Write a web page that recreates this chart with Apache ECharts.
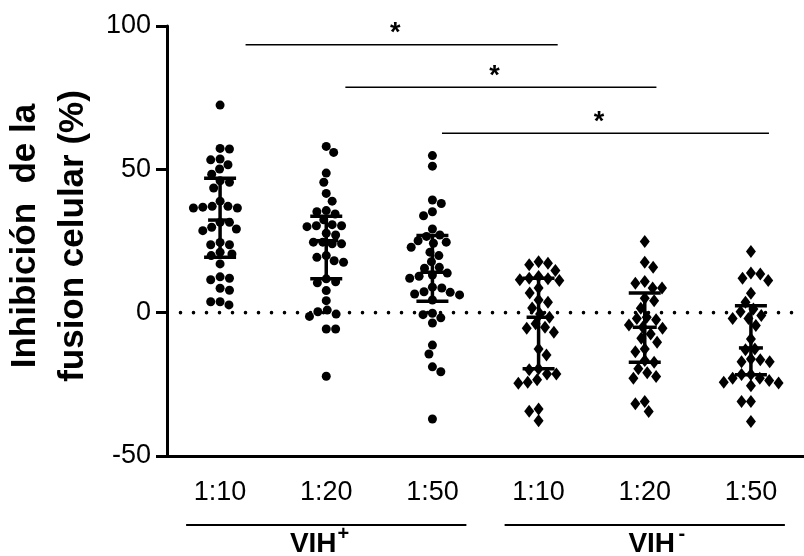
<!DOCTYPE html>
<html>
<head>
<meta charset="utf-8">
<script src="https://cdn.jsdelivr.net/npm/echarts@6/dist/echarts.min.js"></script>
<style>
  html, body { margin: 0; padding: 0; background: #fff; }
  #chart { width: 804px; height: 556px; }
</style>
</head>
<body>
<div id="chart"></div>
<script>
// ---------------- data ----------------
const categories = ['1:10', '1:20', '1:50', '1:10', '1:20', '1:50'];
const groupNames = ['VIH', 'VIH'];
const groupSigns = ['+', '-'];
const groupMembers = [[1, 3], [4, 6]];
const yTicks = [-50, 0, 50, 100];
const refValue = 0;

const vihPos110 = [72.4, 57.3, 57.1, 53.6, 53.3, 51.6, 50.1, 48.3, 46.0, 45.5, 43.5, 38.9, 37.1, 36.8, 36.5, 36.5, 37.1, 31.5, 31.5, 29.8, 28.6, 29.2, 23.7, 23.7, 24.5, 20.5, 21.1, 19.9, 17.0, 12.0, 11.5, 12.5, 8.5, 7.8, 3.8, 2.7, 3.8];
const vihPos120 = [58.0, 55.9, 48.7, 45.5, 41.6, 38.9, 35.2, 35.6, 34.4, 32.4, 30.3, 30.0, 30.3, 30.7, 27.1, 27.7, 24.6, 24.0, 24.0, 24.6, 19.9, 18.1, 17.6, 19.3, 11.8, 10.4, 10.8, 7.7, 4.2, 0.3, 0.9, -0.5, -1.3, -5.7, -5.7, -22.2];
const vihPos150 = [54.8, 51.1, 39.3, 38.1, 35.2, 33.8, 29.2, 26.6, 27.1, 24.2, 22.8, 24.6, 25.1, 19.9, 21.1, 17.8, 15.5, 15.8, 13.1, 12.0, 12.7, 13.8, 8.6, 8.9, 6.5, 7.1, 7.3, 6.2, 4.4, -0.7, -1.8, -0.2, -3.6, -11.3, -14.4, -18.9, -20.6, -37.1];
const vihNeg110 = [17.2, 16.7, 17.8, 14.7, 11.5, 12.6, 12.0, 11.2, 11.8, 6.9, 8.6, 3.6, 4.4, -0.5, 1.6, -1.6, -3.9, -5.1, -6.8, -5.4, -12.7, -14.8, -21.4, -19.6, -19.9, -21.4, -24.3, -24.6, -23.4, -33.6, -34.4, -37.7];
const vihNeg120 = [24.8, 17.6, 15.8, 10.9, 10.3, 8.6, 8.6, 4.2, 5.0, 1.5, -1.6, -2.0, -5.4, -5.1, -4.3, -2.5, -7.4, -8.9, -10.3, -12.7, -13.6, -16.7, -17.3, -19.6, -22.3, -22.9, -21.0, -31.0, -31.8, -34.5];
const vihNeg150 = [21.3, 13.5, 12.0, 11.2, 13.8, 6.8, 3.6, 1.3, -1.0, -2.0, -2.0, 0.3, -4.5, -9.2, -12.9, -12.7, -17.1, -16.4, -16.2, -17.1, -21.6, -24.3, -24.5, -22.9, -21.6, -22.9, -25.5, -23.7, -31.0, -31.0, -38.0];

const medians = [32.3, 25.1, 14.1, -1.6, -5.1, -12.3];
const q1 = [19.3, 11.8, 4.0, -19.6, -17.3, -21.7];
const q3 = [46.9, 33.6, 26.9, 12.0, 6.9, 2.4];

// significance comparisons: [x start, x end, y level] (group-index units / %)
const brackets = [[1.24, 4.18, 93.5], [2.18, 5.11, 78.6], [3.09, 6.17, 62.6]];
const sigLabel = '*';

// ---------------- layout ----------------
const FONT = 'Liberation Sans, Arial, Helvetica, sans-serif';
const W = 804, H = 556;
const GRID = { left: 167, top: 26, right: -8, bottom: 100 };
const pxX = (W - GRID.left - GRID.right) / categories.length;
const pxY = (H - GRID.top - GRID.bottom) / (yTicks[yTicks.length - 1] - yTicks[0]);
const groupLabelShift = [-13, 7];

const groupsVals = [vihPos110, vihPos120, vihPos150, vihNeg110, vihNeg120, vihNeg150];

function swarm(vals, rx, ry) {
  const order = vals.map((v, i) => i).sort((a, b) => vals[b] - vals[a]);
  const placed = [];
  const off = new Array(vals.length).fill(0);
  let flip = 1;
  for (const i of order) {
    const y = vals[i] * pxY;
    let chosen = null;
    for (let m = 0; m < 300 && chosen === null; m += 0.5) {
      const cands = m === 0 ? [0] : [flip * m, -flip * m];
      for (const c of cands) {
        if (placed.every(p => ((p.x - c) / rx) ** 2 + ((p.y - y) / ry) ** 2 >= 1)) { chosen = c; break; }
      }
    }
    if (chosen !== 0) flip = -flip;
    off[i] = chosen / pxX;
    placed.push({ x: chosen, y: y });
  }
  return off;
}

const scatterSeries = groupsVals.map((vals, gi) => {
  const isNeg = gi >= 3;
  const off = isNeg ? swarm(vals, 9.5, 11) : swarm(vals, 9.5, 9.5);
  return {
    type: 'scatter',
    xAxisIndex: 1, yAxisIndex: 0,
    symbol: isNeg ? 'diamond' : 'circle',
    symbolSize: isNeg ? [10, 13] : 9,
    itemStyle: { color: '#000', opacity: 1 },
    silent: true,
    z: 3,
    data: vals.map((v, i) => [gi + 1 + off[i], v])
  };
});

const errData = medians.map((m, i) => [i + 1, m, q1[i], q3[i]]);

const bracketSeries = brackets.map(b => ({
  type: 'line',
  xAxisIndex: 1, yAxisIndex: 0,
  symbol: 'none', silent: true, z: 2,
  lineStyle: { color: '#000', width: 1.5 },
  data: [[b[0], b[2]], [b[1], b[2]]]
}));

const option = {
  animation: false,
  backgroundColor: '#fff',
  grid: GRID,
  xAxis: [
    {
      type: 'category',
      data: categories.map((c, i) => String(i)),
      boundaryGap: true,
      axisLine: { onZero: false, lineStyle: { color: '#000', width: 3 } },
      axisTick: { alignWithLabel: true, length: 12, lineStyle: { color: '#000', width: 3 } },
      axisLabel: { color: '#000', fontSize: 27, fontFamily: FONT, margin: 23, formatter: (v, i) => categories[i] },
      splitLine: { show: false }
    },
    {
      type: 'value',
      min: 0.5, max: 6.5,
      show: false,
      axisLine: { show: false, onZero: false },
      splitLine: { show: false }
    }
  ],
  yAxis: {
    type: 'value',
    min: yTicks[0], max: yTicks[yTicks.length - 1], interval: 50,
    axisLine: { show: true, onZero: false, lineStyle: { color: '#000', width: 3 } },
    axisTick: { show: true, length: 11, lineStyle: { color: '#000', width: 3 } },
    axisLabel: { color: '#000', fontSize: 27, fontFamily: FONT, margin: 16 },
    splitLine: { show: false }
  },
  series: [
    {
      type: 'custom',
      xAxisIndex: 1, yAxisIndex: 0,
      silent: true, z: 1, clip: false,
      encode: { x: 0, y: 1 },
      renderItem: function (params, api) {
        const a = api.coord([api.value(0), api.value(1)]);
        const b = api.coord([api.value(2), api.value(3)]);
        const step = 13;
        const children = [];
        for (let x = a[0] + 13.5; x <= Math.min(b[0], W); x += step) {
          children.push({ type: 'circle', shape: { cx: x, cy: a[1], r: 1.8 }, style: { fill: '#000' } });
        }
        return { type: 'group', children: children };
      },
      data: [[0.5, refValue, 6.5, refValue]]
    },
    ...bracketSeries,
    ...scatterSeries,
    {
      type: 'custom',
      xAxisIndex: 1, yAxisIndex: 0,
      silent: true, z: 5, clip: false,
      encode: { x: 0, y: [1, 2, 3] },
      renderItem: function (params, api) {
        const x = api.value(0);
        const pm = api.coord([x, api.value(1)]);
        const pl = api.coord([x, api.value(2)]);
        const ph = api.coord([x, api.value(3)]);
        const st = { stroke: '#000', lineWidth: 3.5 };
        const cw = 16, mw = 12;
        return {
          type: 'group',
          children: [
            { type: 'line', shape: { x1: ph[0], y1: ph[1], x2: pl[0], y2: pl[1] }, style: st },
            { type: 'line', shape: { x1: ph[0] - cw, y1: ph[1], x2: ph[0] + cw, y2: ph[1] }, style: st },
            { type: 'line', shape: { x1: pl[0] - cw, y1: pl[1], x2: pl[0] + cw, y2: pl[1] }, style: st },
            { type: 'line', shape: { x1: pm[0] - mw, y1: pm[1], x2: pm[0] + mw, y2: pm[1] }, style: st }
          ]
        };
      },
      data: errData
    }
  ]
};

const chart = echarts.init(document.getElementById('chart'), null, { renderer: 'canvas', width: W, height: H });
chart.setOption(option);

function px(x, y) { return chart.convertToPixel({ xAxisIndex: 1, yAxisIndex: 0 }, [x, y]); }

const graphics = [];
// y axis title
graphics.push({
  type: 'text', x: 25, y: 236, rotation: Math.PI / 2,
  style: { text: 'Inhibición  de la', fontSize: 35, fontWeight: 'bold', fontFamily: FONT, fill: '#000', align: 'center', verticalAlign: 'middle' }
});
graphics.push({
  type: 'text', x: 73, y: 236, rotation: Math.PI / 2,
  style: { text: 'fusion celular (%)', fontSize: 35, fontWeight: 'bold', fontFamily: FONT, fill: '#000', align: 'center', verticalAlign: 'middle' }
});
// significance stars
brackets.forEach(b => {
  const p = px((b[0] + b[1]) / 2 - 0.06, b[2]);
  graphics.push({
    type: 'text', x: p[0], y: p[1] - 11,
    style: { text: sigLabel, fontSize: 27, fontWeight: 'bold', fontFamily: FONT, fill: '#000', align: 'center', verticalAlign: 'middle' }
  });
});
// group labels
groupMembers.forEach((gm, gi) => {
  const a = px(gm[0] - 0.32, 0), b = px(gm[1] + 0.32, 0);
  const lineY = 525;
  graphics.push({ type: 'line', shape: { x1: a[0], y1: lineY, x2: b[0], y2: lineY }, style: { stroke: '#000', lineWidth: 2 } });
  const c = px((gm[0] + gm[1]) / 2, 0)[0] + groupLabelShift[gi];
  graphics.push({
    type: 'text', x: c, y: 544,
    style: { text: groupNames[gi], fontSize: 28, fontWeight: 'bold', fontFamily: FONT, fill: '#000', align: 'center', verticalAlign: 'middle' }
  });
  graphics.push({
    type: 'text', x: c + 30, y: 534,
    style: { text: groupSigns[gi], fontSize: 20, fontWeight: 'bold', fontFamily: FONT, fill: '#000', align: 'center', verticalAlign: 'middle' }
  });
});
chart.setOption({ graphic: graphics });
</script>
</body>
</html>
